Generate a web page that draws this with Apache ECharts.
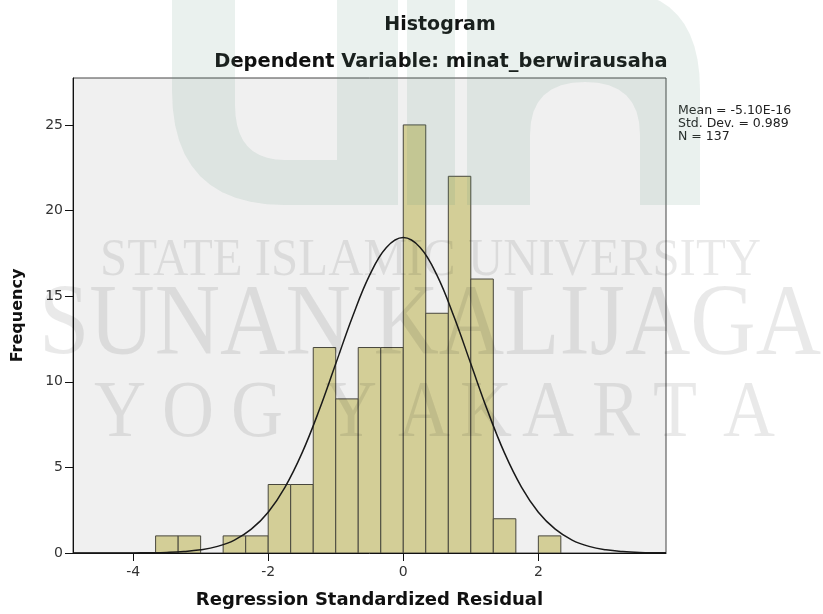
<!DOCTYPE html>
<html><head><meta charset="utf-8">
<script src="https://cdn.jsdelivr.net/npm/echarts@6/dist/echarts.min.js"></script>
<style>html,body{margin:0;padding:0;background:#fff}#c{width:823px;height:614px}</style>
</head><body><div id="c"></div>
<script>
// ---- data ----
const binEdges = [-3.667,-3.333,-3,-2.667,-2.333,-2,-1.667,-1.333,-1,-0.667,-0.333,0,0.333,0.667,1,1.333,1.667,2,2.333];
const counts   = [1,1,0,1,1,4,4,12,9,12,12,25,14,22,16,2,0,1];
const curveX = [-4.89,-4.5,-4,-3.75,-3.5,-3.25,-3,-2.75,-2.5,-2.25,-2,-1.75,-1.5,-1.25,-1,-0.75,-0.5,-0.25,0,0.25,0.5,0.75,1,1.25,1.5,1.75,2,2.25,2.5,2.75,3,3.25,3.5,3.89];
const curveY = [0,0.001,0.005,0.014,0.035,0.083,0.185,0.386,0.755,1.39,2.38,3.85,5.83,8.29,11.05,13.81,16.21,17.84,18.42,17.84,16.21,13.81,11.05,8.29,5.83,3.85,2.38,1.39,0.755,0.386,0.185,0.083,0.035,0.008];
const xTicks = [-4,-2,0,2];
const yTicks = [0,5,10,15,20,25];
const statLines = ['Mean = -5.10E-16','Std. Dev. = 0.989','N = 137'];
const titleText = 'Histogram';
const subtitleText = 'Dependent Variable: minat_berwirausaha';
const xName = 'Regression Standardized Residual';
const yName = 'Frequency';
const wmLine1 = 'STATE ISLAMIC UNIVERSITY';
const wmLine2 = 'SUNAN KALIJAGA';
const wmLine3 = ['Y','O','G','Y','A','K','A','R','T','A'];

// ---- build ----
const barData = counts.map((c,i)=>[binEdges[i], binEdges[i+1], c]);
const curveData = curveX.map((x,i)=>[x, curveY[i]]);

const ctx = document.createElement('canvas').getContext('2d');
function fitScale(text, font, width){ ctx.font = font; return width / ctx.measureText(text).width; }
function quad(p0, c, p1, n){ const pts=[]; for(let i=1;i<=n;i++){const t=i/n,u=1-t; pts.push([u*u*p0[0]+2*u*t*c[0]+t*t*p1[0], u*u*p0[1]+2*u*t*c[1]+t*t*p1[1]]);} return pts; }

const WM_FILL = 'rgba(0,0,0,0.085)';
const LOGO_FILL = 'rgba(90,150,125,0.13)';
const f1 = '53px "Liberation Serif"', f2 = '101px "Liberation Serif"', f3 = '80px "Liberation Serif"';
const letterX = [120,188,257,351,424,486,548,616,675,749];

// decorative watermark shapes
const leftU = [[172,-10],[235,-10],[235,105]].concat(quad([235,105],[235,160],[285,160],10),
  [[337,160],[337,-10],[398,-10],[398,205],[285,205]], quad([285,205],[172,205],[172,90],12));
const rightN = [[467,-10],[610,-10]].concat(quad([610,-10],[700,-10],[700,90],12),
  [[700,205],[640,205],[640,135]], quad([640,135],[640,82],[585,82],8), quad([585,82],[530,82],[530,135],8),
  [[530,205],[467,205]]);

const graphics = [
  {type:'polygon', silent:true, z:50, shape:{points:leftU}, style:{fill:LOGO_FILL}},
  {type:'rect', silent:true, z:50, shape:{x:407,y:-10,width:48,height:215}, style:{fill:LOGO_FILL}},
  {type:'polygon', silent:true, z:50, shape:{points:rightN}, style:{fill:LOGO_FILL}},
  {type:'text', silent:true, z:51, x:100, y:261, scaleX: fitScale(wmLine1, f1, 661), style:{text:wmLine1, font:f1, fill:WM_FILL, align:'left', verticalAlign:'middle'}},
  {type:'text', silent:true, z:51, x:39, y:327, scaleX: fitScale(wmLine2, f2, 782), style:{text:wmLine2, font:f2, fill:WM_FILL, align:'left', verticalAlign:'middle'}},
  {type:'text', silent:true, z:40, x:440, y:25, style:{text:titleText, font:'bold 19px "DejaVu Sans"', fill:'#111', align:'center', verticalAlign:'middle'}},
  {type:'text', silent:true, z:40, x:441, y:62, style:{text:subtitleText, font:'bold 19.4px "DejaVu Sans"', fill:'#111', align:'center', verticalAlign:'middle'}},
  {type:'text', silent:true, z:40, x:678, y:104, style:{text:statLines.join('\n'), font:'12.5px "DejaVu Sans"', lineHeight:13, fill:'#222', align:'left', verticalAlign:'top'}}
];
wmLine3.forEach((ch,i)=>{
  graphics.push({type:'text', silent:true, z:51, x:letterX[i], y:415, scaleX:0.9, style:{text:ch, font:f3, fill:WM_FILL, align:'center', verticalAlign:'middle'}});
});

const chart = echarts.init(document.getElementById('c'), null, {renderer:'canvas'});
chart.setOption({
  animation:false,
  backgroundColor:'#ffffff',
  textStyle:{fontFamily:'"DejaVu Sans"'},
  grid:{left:73, right:157, top:78, bottom:60, show:true, backgroundColor:'#f0f0f0', borderColor:'#444', borderWidth:1},
  xAxis:{type:'value', min:-4.89, max:3.89,
    name:xName, nameLocation:'middle', nameGap:38,
    nameTextStyle:{fontFamily:'"DejaVu Sans"', fontWeight:'bold', fontSize:18, color:'#111'},
    axisLine:{show:true, onZero:false, lineStyle:{color:'#111', width:1}},
    axisTick:{show:true, length:8, customValues:xTicks, lineStyle:{color:'#111'}},
    axisLabel:{customValues:xTicks, margin:12, fontSize:14, color:'#333', fontFamily:'"DejaVu Sans"'},
    splitLine:{show:false}},
  yAxis:{type:'value', min:0, max:27.74,
    name:yName, nameLocation:'middle', nameGap:47, nameRotate:90,
    nameTextStyle:{fontFamily:'"DejaVu Sans"', fontWeight:'bold', fontSize:16, color:'#111'},
    axisLine:{show:true, onZero:false, lineStyle:{color:'#111', width:1}},
    axisTick:{show:true, length:8, customValues:yTicks, lineStyle:{color:'#111'}},
    axisLabel:{customValues:yTicks, margin:10, fontSize:14, color:'#333', fontFamily:'"DejaVu Sans"'},
    splitLine:{show:false}},
  graphic:{elements:graphics},
  series:[
    {type:'custom', data:barData, encode:{x:[0,1], y:2}, clip:true,
     renderItem:function(params, api){
       const c = api.value(2);
       if (!c) return null;
       const p0 = api.coord([api.value(0), 0]);
       const p1 = api.coord([api.value(1), c]);
       return {type:'rect', shape:{x:p0[0], y:p1[1], width:p1[0]-p0[0], height:p0[1]-p1[1]},
         style:{fill:'#d3ce97', stroke:'#48473d', lineWidth:1}};
     }, z:2},
    {type:'line', data:curveData, smooth:0.4, symbol:'none', lineStyle:{color:'#1a1a1a', width:1.5}, z:3}
  ]
});
</script>
</body></html>
